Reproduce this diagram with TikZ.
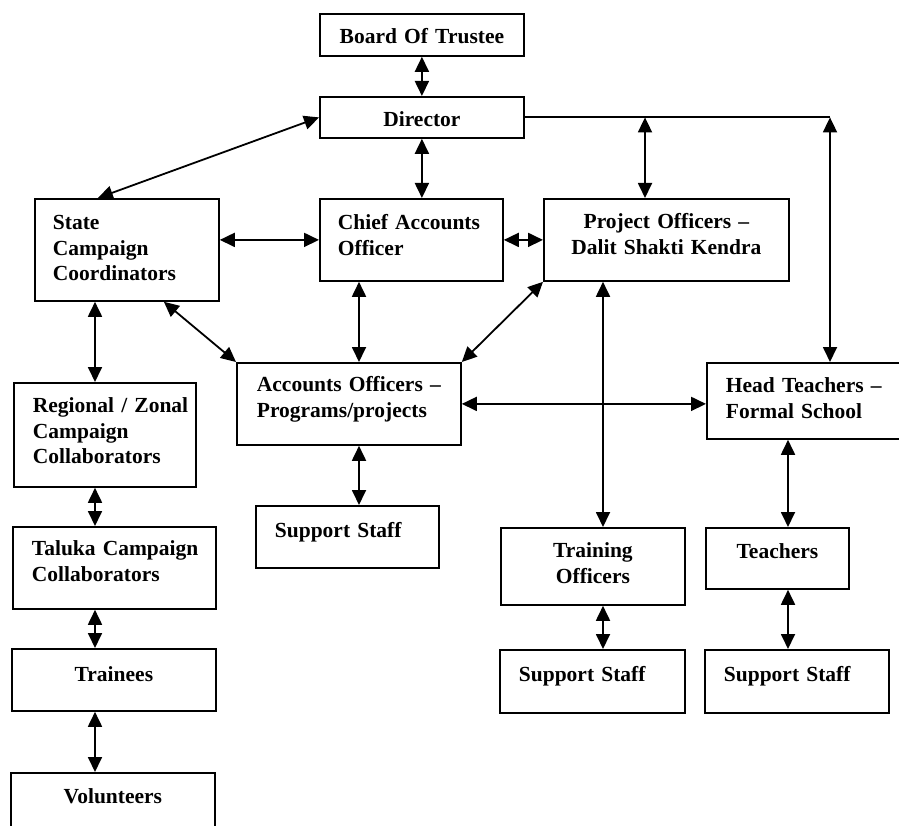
\documentclass[tikz,border=0pt]{standalone}
\usepackage{fontspec}
\setmainfont{Liberation Serif}
\usepackage{tikz}
\usetikzlibrary{arrows.meta}

% one box of the chart: width, height, left padding, first baseline from top
\tikzset{
    post/.style n args = {4}{draw, anchor = north west, inner ysep = 0pt,
        inner xsep = #3pt, text width = {#1pt-2*#3pt},
        text height = #4pt, text depth = {#2pt-#4pt}, align = left,
        font = \bfseries\fontsize{21.5}{25.5}\selectfont},
    mid/.style = {align = center},
}

\begin{document}
\begin{tikzpicture}[x = 1pt, y = -1pt, line width = 1.8pt,
        >= {Triangle[length = 15pt, width = 14pt]}]
        % page frame
        \useasboundingbox (0,0) rectangle (899,826);

        % board and director
        \node[post = {204}{42}{4}{30}, mid] (board) at (319,13) {Board Of Trustee};
        \node[post = {204}{41}{4}{30}, mid] (director) at (319,96) {Director};

        % second row
        \node[post = {184}{102}{18}{31}] (state) at (34,198) {State\\Campaign\\Coordinators};
        \node[post = {183}{82}{18}{31}] (chief) at (319,198) {\mbox{Chief Accounts}\\Officer};
        \node[post = {245}{82}{4}{30}, mid] (project) at (543,198) {Project Officers –\\Dalit Shakti Kendra};

        % accounts and head teachers
        \node[post = {224}{82}{20}{29}] (accounts) at (236,362) {\mbox{Accounts Officers –}\\Programs/projects};
        \node[post = {200}{76}{19}{30}] (headteach) at (706,362) {\mbox{Head Teachers –}\\Formal School};
        \node[post = {183}{62}{19}{32}] (staffacc) at (255,505) {Support Staff};

        % campaign column on the left
        \node[post = {182}{104}{19}{30}] (zonal) at (13,382) {\mbox{Regional / Zonal}\\Campaign\\Collaborators};
        \node[post = {203}{82}{19}{29}] (taluka) at (12,526) {\mbox{Taluka Campaign}\\Collaborators};
        \node[post = {204}{62}{4}{33}, mid] (trainees) at (11,648) {Trainees};
        \node[post = {204}{62}{4}{31}, mid] (volunteers) at (10,772) {Volunteers};

        % training and schools
        \node[post = {184}{77}{4}{30}, mid] (training) at (500,527) {Training\\Officers};
        \node[post = {143}{61}{4}{31}, mid] (teachers) at (705,527) {Teachers};
        \node[post = {185}{63}{19}{32}] (stafftrain) at (499,649) {Support Staff};
        \node[post = {184}{63}{19}{32}] (staffteach) at (704,649) {Support Staff};

        % x of the vertical links
        \coordinate (col-left) at (95,0);
        \coordinate (col-acc) at (359,0);
        \coordinate (col-tr) at (603,0);
        \coordinate (col-po) at (645,0);
        \coordinate (col-tch) at (788,0);
        \coordinate (col-ht) at (830,0);

        % links from the director
        \draw[<->] (board) -- (director);
        \draw[<->] (director) -- (director |- chief.north);
        \draw[<->] (director.west) -- ([xshift=-29pt]state.north);
        \draw (director.east) -- (col-ht |- director.east);
        \draw[<->] (col-po |- director.east) -- (col-po |- project.north);
        \draw[<->] (col-ht |- director.east) -- (col-ht |- headteach.north);

        % links of the second row
        \draw[<->] (state.east |- chief) -- (chief.west);
        \draw[<->] (chief) -- (project);
        \draw[<->] (col-acc |- chief.south) -- (col-acc |- accounts.north);
        \draw[<->] ([xshift=37pt]state.south) -- (accounts.north west);
        \draw[<->] (project.south west) -- (accounts.north east);
        \draw[<->] (col-tr |- project.south) -- (col-tr |- training.north);

        % links of the accounts officers
        \draw[<->] (accounts.east) -- (accounts.east -| headteach.west);
        \draw[<->] (col-acc |- accounts.south) -- (col-acc |- staffacc.north);

        % campaign chain
        \draw[<->] (col-left |- state.south) -- (col-left |- zonal.north);
        \draw[<->] (col-left |- zonal.south) -- (col-left |- taluka.north);
        \draw[<->] (col-left |- taluka.south) -- (col-left |- trainees.north);
        \draw[<->] (col-left |- trainees.south) -- (col-left |- volunteers.north);

        % schools and training
        \draw[<->] (col-tch |- headteach.south) -- (col-tch |- teachers.north);
        \draw[<->] (col-tch |- teachers.south) -- (col-tch |- staffteach.north);
        \draw[<->] (col-tr |- training.south) -- (col-tr |- stafftrain.north);
\end{tikzpicture}
\end{document}
